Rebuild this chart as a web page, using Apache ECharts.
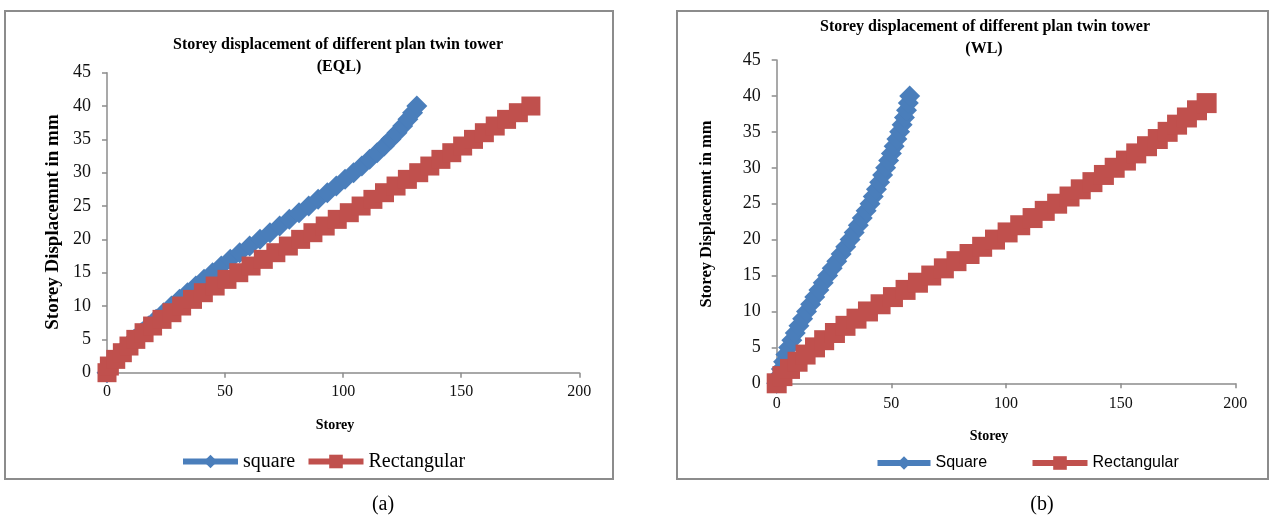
<!DOCTYPE html>
<html>
<head>
<meta charset="utf-8">
<script src="https://cdn.jsdelivr.net/npm/echarts@6/dist/echarts.min.js"></script>
<style>
html,body{margin:0;padding:0;background:#fff;}
#c{width:1271px;height:518px;}
</style>
</head>
<body>
<div id="c"></div>
<script>
// ---- data ----
const storeyEQL = [0,1,2,3,4,5,6,7,8,9,10,11,12,13,14,15,16,17,18,19,20,21,22,23,24,25,26,27,28,29,30,31,32,33,34,35,36,37,38,39,40];
const eqlSquare = [0,1,3.3,6,8.7,11.5,14.5,17.6,20.8,24,27.3,30.7,34.1,37.6,41.1,44.7,48.4,52.2,56.2,60.4,64.8,69,73.1,77.2,81.3,85.4,89.4,93.3,97.1,100.8,104.4,107.9,111.2,114.4,117.4,120.2,122.8,125.2,127.4,129.4,131.2];
const eqlRect = [0,1,3.7,6.5,9.3,12.2,15.7,19.3,23.3,27.5,31.6,36.2,40.8,45.8,50.8,55.8,61,66.2,71.5,76.8,82,87.2,92.4,97.5,102.6,107.6,112.6,117.5,122.4,127.2,132,136.7,141.4,146,150.6,155.2,159.8,164.4,169.2,174.2,179.5];
const storeyWLSquare = [0,1,2,3,4,5,6,7,8,9,10,11,12,13,14,15,16,17,18,19,20,21,22,23,24,25,26,27,28,29,30,31,32,33,34,35,36,37,38,39,40];
const wlSquare = [0,1,2,3,4,5.2,6.6,8.1,9.7,11.3,13,14.8,16.6,18.4,20.3,22.2,24.2,26.2,28.1,30.1,32,33.8,35.6,37.3,39,40.7,42.1,43.5,44.9,46.2,47.5,48.8,50,51.2,52.4,53.6,54.7,55.7,56.6,57.4,58];
const storeyWLRect = [0,1,2,3,4,5,6,7,8,9,10,11,12,13,14,15,16,17,18,19,20,21,22,23,24,25,26,27,28,29,30,31,32,33,34,35,36,37,38,39];
const wlRect = [0,2.5,5.8,9.1,12.6,16.7,20.7,25.4,30,34.8,39.8,45.3,50.7,56.2,61.6,67.4,72.9,78.4,84.1,89.6,95.2,100.7,106.2,111.6,116.9,122.3,127.7,132.6,137.7,142.7,147.4,152.3,156.8,161.5,166.2,170.5,174.6,178.9,183.3,187.5];

const titleLine1 = 'Storey displacement of different plan twin tower';
const titleEQL = '(EQL)';
const titleWL = '(WL)';
const yName = 'Storey Displacemnt in mm';
const xName = 'Storey';

function pairs(xs, ys){ return xs.map((v,i)=>[v, ys[i]]); }

const BLUE = '#4A7EBB';
const RED = '#C0504D';
const AX = '#8C8C8C';
const SERIF = '"Liberation Serif", "Times New Roman", serif';
const SANS = '"Liberation Sans", Arial, sans-serif';

function xAxisDef(grid, margin){
  return {
    type:'value', gridIndex:grid, min:0, max:200, interval:50,
    axisLine:{show:true, lineStyle:{color:AX, width:1.5}},
    axisTick:{show:true, length:5, lineStyle:{color:AX, width:1.5}},
    splitLine:{show:false},
    axisLabel:{fontFamily:SERIF, fontSize:16, color:'#111', margin:margin}
  };
}
function yAxisDef(grid){
  return {
    type:'value', gridIndex:grid, min:0, max:45, interval:5,
    axisLine:{show:true, lineStyle:{color:AX, width:1.5}},
    axisTick:{show:true, length:5, lineStyle:{color:AX, width:1.5}},
    splitLine:{show:false},
    axisLabel:{fontFamily:SERIF, fontSize:18, color:'#111', margin:16}
  };
}
function txt(text, x, y, font, rot){
  return {type:'text', x:x, y:y, rotation:rot||0, silent:true,
    style:{text:text, font:font, fill:'#000', align:'center', verticalAlign:'middle', textAlign:'center', textVerticalAlign:'middle'}};
}
function legendDef(name, left, top, w, font, size){
  return {data:[name], left:left, top:top, padding:0, itemWidth:w, itemHeight:17,
    lineStyle:{width:6}, textStyle:{fontFamily:font, fontSize:size, color:'#000'}};
}

const chart = echarts.init(document.getElementById('c'), null, {renderer:'canvas'});
chart.setOption({
  animation:false,
  backgroundColor:'#fff',
  grid:[
    {left:107, right:1271-579.3, top:72.7, bottom:518-372.7},
    {left:776.7, right:1271-1235.3, top:60, bottom:518-383.3}
  ],
  xAxis:[xAxisDef(0,11), xAxisDef(1,12)],
  yAxis:[yAxisDef(0), yAxisDef(1)],
  legend:[
    legendDef('square', 180, 451.5, 55, SERIF, 20),
    legendDef('Rectangular', 305.5, 451.5, 55, SERIF, 20),
    legendDef('Square', 874.5, 455, 53, SANS, 16),
    legendDef('Rectangular ', 1029.5, 455, 55, SANS, 16)
  ],
  series:[
    {name:'square', type:'line', xAxisIndex:0, yAxisIndex:0, data:pairs(eqlSquare, storeyEQL),
     symbol:'diamond', symbolSize:21, lineStyle:{color:BLUE, width:6}, itemStyle:{color:BLUE}},
    {name:'Rectangular', type:'line', xAxisIndex:0, yAxisIndex:0, data:pairs(eqlRect, storeyEQL),
     symbol:'rect', symbolSize:19, lineStyle:{color:RED, width:6}, itemStyle:{color:RED}},
    {name:'Square', type:'line', xAxisIndex:1, yAxisIndex:1, data:pairs(wlSquare, storeyWLSquare),
     symbol:'diamond', symbolSize:21, lineStyle:{color:BLUE, width:6}, itemStyle:{color:BLUE}},
    {name:'Rectangular ', type:'line', xAxisIndex:1, yAxisIndex:1, data:pairs(wlRect, storeyWLRect),
     symbol:'rect', symbolSize:20, lineStyle:{color:RED, width:6}, itemStyle:{color:RED}}
  ],
  graphic:[
    {type:'rect', shape:{x:5, y:11, width:608, height:468}, style:{fill:null, stroke:AX, lineWidth:2}, silent:true, z:-1},
    {type:'rect', shape:{x:677, y:11, width:591, height:468}, style:{fill:null, stroke:AX, lineWidth:2}, silent:true, z:-1},
    txt(titleLine1, 338, 45, 'bold 16px ' + SERIF),
    txt(titleEQL, 339, 67, 'bold 16px ' + SERIF),
    txt(titleLine1, 985, 27, 'bold 16px ' + SERIF),
    txt(titleWL, 984, 48.5, 'bold 16px ' + SERIF),
    txt(yName, 53, 222, 'bold 19px ' + SERIF, Math.PI/2),
    txt(yName, 707, 214, 'bold 16.5px ' + SERIF, Math.PI/2),
    txt(xName, 335, 425, 'bold 14px ' + SERIF),
    txt(xName, 989, 436, 'bold 14px ' + SERIF),
    txt('(a)', 383, 505, '20px ' + SERIF),
    txt('(b)', 1042, 505, '20px ' + SERIF)
  ]
});
</script>
</body>
</html>
